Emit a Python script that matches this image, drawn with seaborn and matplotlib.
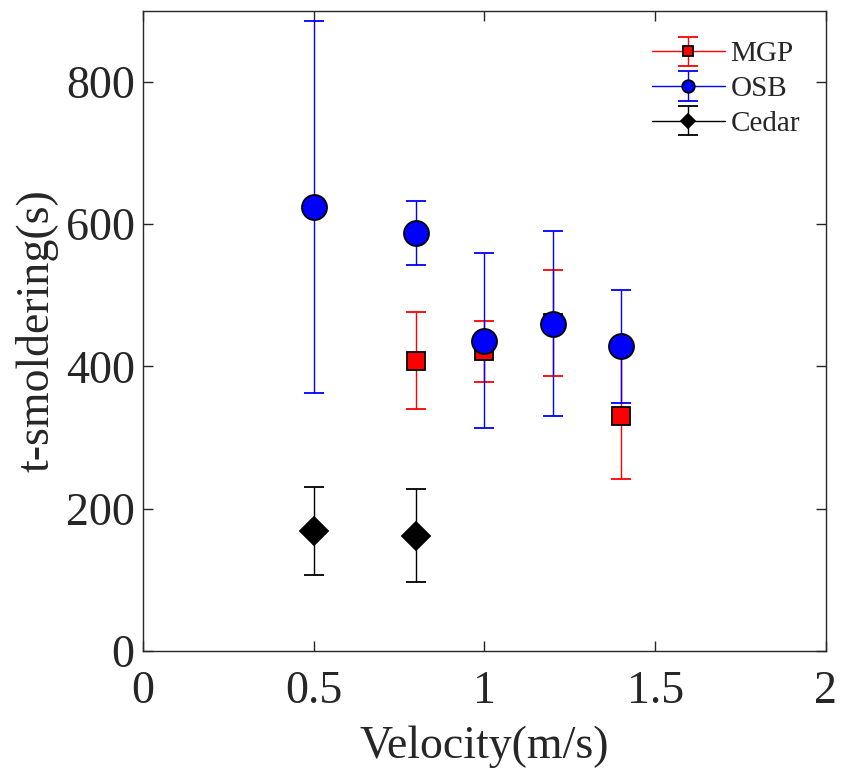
import matplotlib
matplotlib.use("Agg")
import matplotlib.pyplot as plt
import seaborn as sns

# values
mgp_v = [0.8, 1.0, 1.2, 1.4]
mgp_t = [408, 421, 461, 330]
mgp_err = [68, 43, 74, 89]

osb_v = [0.5, 0.8, 1.0, 1.2, 1.4]
osb_t = [624, 588, 436, 460, 428]
osb_err = [262, 45, 123, 130, 80]

cedar_v = [0.5, 0.8]
cedar_t = [169, 162]
cedar_err = [62, 65]

x_ticks = [0, 0.5, 1, 1.5, 2]
x_tick_labels = ["0", "0.5", "1", "1.5", "2"]
y_ticks = [0, 200, 400, 600, 800]

sns.set_theme(style="ticks")
plt.rcParams["font.family"] = ["Liberation Serif", "DejaVu Serif"]

fig = plt.figure(figsize=(8.41, 7.73), dpi=100)
ax = fig.add_axes([0.170, 0.158, 0.812, 0.828])

series = [
    (mgp_v, mgp_t, mgp_err, "MGP", "red", "s", 13),
    (osb_v, osb_t, osb_err, "OSB", "blue", "o", 18),
    (cedar_v, cedar_t, cedar_err, "Cedar", "black", "D", 14),
]

conts = []
for v, t, e, name, col, mk, ms in series:
    c = ax.errorbar(v, t, yerr=e, fmt=mk, ls="-", color=col, ecolor=col,
                    elinewidth=1, capsize=7, capthick=1, lw=1,
                    markersize=ms, markerfacecolor=col, markeredgecolor="black",
                    markeredgewidth=1.3, label=name)
    conts.append(c)

leg = ax.legend(loc="upper left", bbox_to_anchor=(0.745, 0.953), frameon=False,
                fontsize=21, handlelength=2.5, handletextpad=0.2,
                labelspacing=0.29, borderpad=0, borderaxespad=0, markerscale=0.5)

# hide connecting lines after the legend copied them
for c in conts:
    c.lines[0].set_linestyle("none")

ax.set_xlim(0, 2)
ax.set_ylim(0, 900)
ax.set_xticks(x_ticks)
ax.set_xticklabels(x_tick_labels)
ax.set_yticks(y_ticks)
ax.tick_params(direction="in", length=7, width=1, top=True, right=True,
               labelsize=33, colors="#262626", labelcolor="#262626")
ax.tick_params(axis="x", pad=14)
ax.tick_params(axis="y", pad=6)
for sp in ax.spines.values():
    sp.set_color("#262626")
    sp.set_linewidth(1)

ax.set_xlabel("Velocity(m/s)", fontsize=33, color="#262626", labelpad=9)
ax.set_ylabel("t-smoldering(s)", fontsize=33, color="#262626", labelpad=5)

fig.savefig("out.png", dpi=100)
